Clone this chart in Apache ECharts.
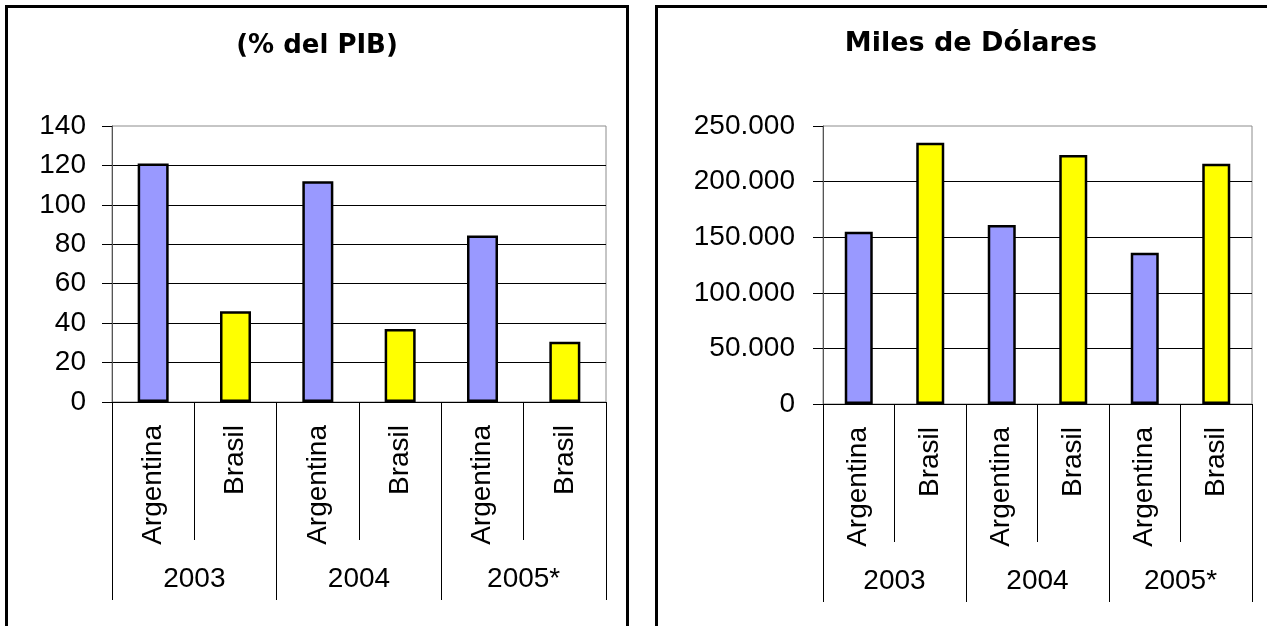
<!DOCTYPE html>
<html>
<head>
<meta charset="utf-8">
<script src="https://cdn.jsdelivr.net/npm/echarts@6/dist/echarts.min.js"></script>
<style>
  html, body { margin: 0; padding: 0; background: #fff; }
  #chart { width: 1267px; height: 626px; }
</style>
</head>
<body>
<div id="chart"></div>
<script>
// Países y años de cada panel
const countries = ['Argentina', 'Brasil'];
const years = ['2003', '2004', '2005*'];

// Deuda pública en % del PIB
const pibArgentina = [121, 112, 84.5];
const pibBrasil = [46, 37, 30.5];

// Deuda pública en miles de dólares
const usdArgentina = [155000, 161000, 136000];
const usdBrasil = [235000, 224000, 216000];

// Escalas de los ejes de valores
const pibScale = { min: 0, max: 140, interval: 20 };
const usdScale = { min: 0, max: 250000, interval: 50000 };

const titles = ['(% del PIB)', 'Miles de Dólares'];
const countryColors = { Argentina: '#9999FF', Brasil: '#FFFF00' };

const FONT = '"Liberation Sans", Arial, sans-serif';
const TITLE_FONT = '"DejaVu Sans", "Liberation Sans", sans-serif';

function thousands(v) {
  return String(v).replace(/\B(?=(\d{3})+(?!\d))/g, '.');
}

// Categorías únicas "país|año" y datos intercalados por año
function buildCategories() {
  const cats = [];
  years.forEach(y => countries.forEach(c => cats.push(c + '|' + y)));
  return cats;
}
function buildData(argVals, braVals) {
  const out = [];
  years.forEach((y, i) => {
    out.push({ value: argVals[i], itemStyle: { color: countryColors.Argentina, borderColor: '#000', borderWidth: 2.5 } });
    out.push({ value: braVals[i], itemStyle: { color: countryColors.Brasil, borderColor: '#000', borderWidth: 2.5 } });
  });
  return out;
}

const grids = [
  { left: 112, top: 126, width: 494, height: 276 },
  { left: 823, top: 126, width: 429, height: 278 }
];

const panels = [
  { scale: pibScale, arg: pibArgentina, bra: pibBrasil, fmt: v => String(v), yMargin: 26, barWidth: 31 },
  { scale: usdScale, arg: usdArgentina, bra: usdBrasil, fmt: thousands, yMargin: 28, barWidth: 28 }
];

const xAxes = [], yAxes = [], series = [];
panels.forEach((p, gi) => {
  xAxes.push({
    type: 'category', gridIndex: gi, position: 'bottom',
    data: buildCategories(), boundaryGap: true,
    axisLine: { show: true, lineStyle: { color: '#000', width: 1 } },
    axisTick: { show: true, interval: 0, length: 138, lineStyle: { color: '#000', width: 1 } },
    axisLabel: {
      interval: 0, rotate: 90, margin: 23, color: '#000',
      fontSize: 28, fontFamily: FONT,
      formatter: v => v.split('|')[0]
    },
    splitLine: { show: false }
  });
  xAxes.push({
    type: 'category', gridIndex: gi, position: 'bottom',
    data: years, boundaryGap: true,
    axisLine: { show: false },
    axisTick: { show: true, interval: 0, length: 198, lineStyle: { color: '#000', width: 1 } },
    axisLabel: { interval: 0, margin: 163, color: '#000', fontSize: 28, fontFamily: FONT },
    splitLine: { show: false }
  });
  yAxes.push({
    type: 'value', gridIndex: gi,
    min: p.scale.min, max: p.scale.max, interval: p.scale.interval,
    axisLine: { show: true, lineStyle: { color: '#555', width: 1 } },
    axisTick: { show: true, inside: false, length: 10, lineStyle: { color: '#000', width: 1 } },
    axisLabel: { margin: p.yMargin, color: '#000', fontSize: 28, fontFamily: FONT, formatter: p.fmt },
    splitLine: { show: true, showMaxLine: false, lineStyle: { color: '#000', width: 1 } }
  });
  series.push({
    type: 'bar', xAxisIndex: gi * 2, yAxisIndex: gi,
    barWidth: p.barWidth,
    itemStyle: { borderColor: '#000', borderWidth: 2.5 },
    data: buildData(p.arg, p.bra),
    silent: true
  });
});

const chart = echarts.init(document.getElementById('chart'), null, { renderer: 'canvas' });
chart.setOption({
  animation: false,
  backgroundColor: '#fff',
  grid: grids.map(g => Object.assign({ show: true, borderColor: '#8c8c8c', borderWidth: 1, backgroundColor: 'transparent' }, g)),
  xAxis: xAxes,
  yAxis: yAxes,
  series: series,
  graphic: [
    // Marcos de cada panel
    { type: 'rect', shape: { x: 6.5, y: 6.5, width: 621, height: 700 }, style: { fill: 'none', stroke: '#000', lineWidth: 3 }, silent: true },
    { type: 'rect', shape: { x: 656.5, y: 6.5, width: 700, height: 700 }, style: { fill: 'none', stroke: '#000', lineWidth: 3 }, silent: true },
    // Títulos
    { type: 'text', x: 317, y: 46, style: { text: titles[0], font: 'bold 26px ' + TITLE_FONT, fill: '#000', align: 'center', verticalAlign: 'middle' }, silent: true },
    { type: 'text', x: 971, y: 44, style: { text: titles[1], font: 'bold 27px ' + TITLE_FONT, fill: '#000', align: 'center', verticalAlign: 'middle' }, silent: true }
  ]
});
</script>
</body>
</html>
